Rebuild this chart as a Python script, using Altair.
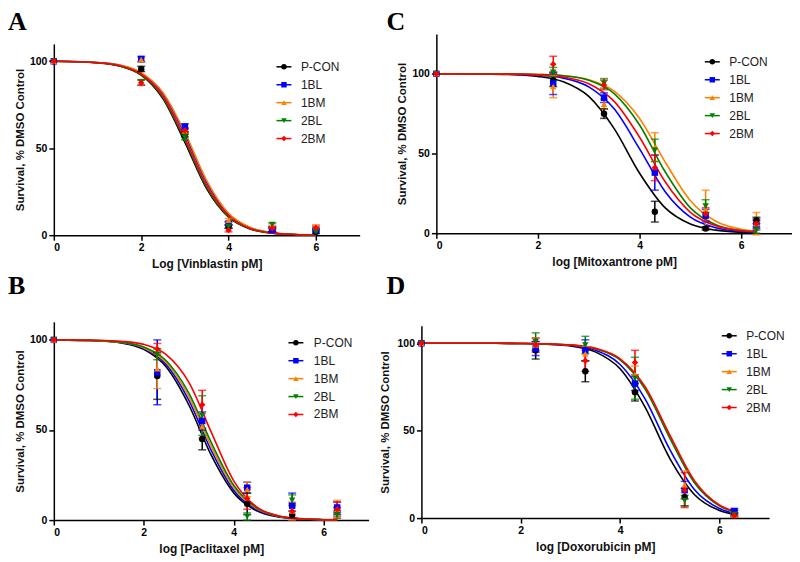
import altair as alt
import pandas as pd

# ---------------- data ----------------
SERIES = ["P-CON", "1BL", "1BM", "2BL", "2BM"]
COLORS = ["#000000", "#0000FF", "#FF8000", "#008000", "#FF0000"]
SHAPES = ["circle", "square", "triangle-up", "triangle-down", "diamond"]
X_TICKS = [0, 2, 4, 6]
Y_TICKS = [0, 50, 100]
Y_TITLE = "Survival, % DMSO Control"

# Panel A - Vinblastin
DOSE_A = [0, 2, 3, 4, 5, 6]
MEAN_A = {
    "P-CON": [100, 95.6, 58.0, 5.0, 3.0, 2.0],
    "1BL":   [100, 101.3, 62.5, 6.7, 3.0, 2.9],
    "1BM":   [100, 101.0, 60.0, 8.6, 5.5, 5.0],
    "2BL":   [100, 88.0, 56.4, 5.0, 6.1, 2.0],
    "2BM":   [100, 87.6, 60.2, 2.9, 4.0, 4.2],
}
ERR_A = {
    "P-CON": [0, 1.5, 1.5, 1.0, 1.0, 1.0],
    "1BL":   [0, 1.5, 1.5, 1.0, 1.0, 1.0],
    "1BM":   [0, 1.5, 1.5, 1.0, 1.0, 1.0],
    "2BL":   [0, 1.5, 1.5, 1.0, 1.0, 1.0],
    "2BM":   [0, 1.5, 1.5, 1.0, 1.0, 1.0],
}
GRID_A = [0, 1, 1.5, 2, 2.5, 3, 3.5, 4, 4.5, 5, 5.5, 6]
CURVE_A = {
    "P-CON": [100, 99.1, 97.3, 92.0, 78.4, 53.4, 26.6, 10.3, 3.5, 1.1, 0.4, 0.1],
    "1BL":   [100, 99.3, 97.8, 93.2, 81.4, 58.0, 30.4, 12.1, 4.2, 1.4, 0.4, 0.1],
    "1BM":   [100, 99.3, 97.9, 93.5, 82.0, 59.1, 31.4, 12.6, 4.4, 1.4, 0.5, 0.1],
    "2BL":   [100, 99.2, 97.4, 92.3, 79.2, 54.6, 27.5, 10.7, 3.7, 1.2, 0.4, 0.1],
    "2BM":   [100, 99.2, 97.6, 92.6, 79.9, 55.7, 28.5, 11.2, 3.8, 1.2, 0.4, 0.1],
}

DOSE_BCD = [0, 2.3, 3.3, 4.3, 5.3, 6.3]
GRID_BCD = [0, 1, 1.5, 2, 2.5, 3, 3.5, 4, 4.5, 5, 5.5, 6, 6.3]

# Panel B - Paclitaxel
MEAN_B = {
    "P-CON": [100, 80, 45, 9, 3, 5],
    "1BL":   [100, 82, 55, 18, 8, 7],
    "1BM":   [100, 84, 52, 17, 5, 6],
    "2BL":   [100, 92, 58, 2, 11, 3],
    "2BM":   [100, 95, 64, 12, 5, 6],
}
ERR_B = {
    "P-CON": [0, 13, 6, 6, 2, 2],
    "1BL":   [0, 18, 5, 3, 7, 3],
    "1BM":   [0, 11, 7, 4, 5, 5],
    "2BL":   [0, 3, 11, 2, 3, 2],
    "2BM":   [0, 3, 8, 6, 4, 4],
}
CURVE_B = {
    "P-CON": [99.9, 99.4, 98.3, 94.7, 84.9, 64.0, 36.0, 15.1, 5.3, 1.7, 0.6, 0.2, 0.1],
    "1BL":   [100, 99.5, 98.4, 95.2, 86.3, 66.6, 38.7, 16.6, 5.9, 2.0, 0.6, 0.2, 0.1],
    "1BM":   [100, 99.5, 98.6, 95.6, 87.4, 68.6, 40.9, 18.0, 6.5, 2.1, 0.7, 0.2, 0.1],
    "2BL":   [100, 99.6, 98.7, 96.0, 88.4, 70.6, 43.1, 19.3, 7.0, 2.3, 0.8, 0.3, 0.1],
    "2BM":   [100, 99.8, 99.2, 97.5, 91.8, 76.6, 48.8, 21.8, 7.5, 2.3, 0.7, 0.2, 0.1],
}

# Panel C - Mitoxantrone
MEAN_C = {
    "P-CON": [100, 96, 75, 13.5, 3, 8],
    "1BL":   [100, 94, 85, 38, 11, 5],
    "1BM":   [100, 92, 81, 54, 15, 6],
    "2BL":   [100, 101, 94, 52, 17, 2],
    "2BM":   [100, 106, 93, 41, 12, 6],
}
ERR_C = {
    "P-CON": [0, 4, 3, 6.5, 1, 2],
    "1BL":   [0, 7, 3, 11, 4, 3],
    "1BM":   [0, 7, 3, 9, 12, 7],
    "2BL":   [0, 3, 3, 7, 4, 2],
    "2BM":   [0, 5, 3, 8, 4, 3],
}
CURVE_C = {
    "P-CON": [100, 99.8, 99.5, 98.4, 95.0, 85.8, 65.6, 37.6, 16.0, 5.7, 1.9, 0.6, 0.3],
    "1BL":   [100, 99.9, 99.7, 99.1, 97.3, 91.8, 78.0, 52.9, 26.2, 10.1, 3.4, 1.1, 0.6],
    "1BM":   [100, 100, 99.9, 99.6, 98.8, 96.3, 89.1, 72.0, 44.8, 20.4, 7.5, 2.5, 1.3],
    "2BL":   [100, 100, 99.9, 99.6, 98.8, 96.0, 87.6, 67.9, 38.7, 15.9, 5.3, 1.7, 0.8],
    "2BM":   [100, 99.9, 99.8, 99.3, 98.0, 93.8, 82.7, 60.2, 32.4, 13.1, 4.6, 1.5, 0.8],
}

# Panel D - Doxorubicin
MEAN_D = {
    "P-CON": [100, 96, 84, 72, 12, 3],
    "1BL":   [100, 97, 96, 77, 16, 4],
    "1BM":   [100, 99, 94, 82, 19, 2],
    "2BL":   [100, 101, 99, 80, 10, 2],
    "2BM":   [100, 99, 90, 89, 16, 1.5],
}
ERR_D = {
    "P-CON": [0, 5, 6, 5, 5, 1.5],
    "1BL":   [0, 4, 6, 4, 5, 1.5],
    "1BM":   [0, 4, 4, 5, 8, 1],
    "2BL":   [0, 5, 5, 12, 3, 1],
    "2BM":   [0, 4, 6, 7, 10, 1],
}
CURVE_D = {
    "P-CON": [100, 100, 100, 99.9, 99.5, 98.5, 95.1, 85.4, 63.6, 34.2, 13.4, 4.4, 2.2],
    "1BL":   [100, 100, 100, 99.9, 99.6, 98.8, 96.1, 87.9, 68.4, 39.3, 16.2, 5.5, 2.7],
    "1BM":   [100, 100, 100, 99.9, 99.7, 99.1, 97.1, 90.9, 74.8, 47.0, 20.9, 7.3, 3.7],
    "2BL":   [100, 100, 100, 99.9, 99.7, 99.1, 96.9, 90.5, 73.9, 45.8, 20.1, 7.0, 3.5],
    "2BM":   [100, 100, 100, 99.9, 99.7, 99.1, 97.1, 91.1, 75.3, 47.6, 21.3, 7.5, 3.8],
}

FONT = "Liberation Sans"


def panel(letter, dose, mean, err, grid, curves, xtitle, ymax, w, h, xrange, yrange,
          yoff, leg_cx, leg_y, leg_lx, tdx, toff, ytp):
    pts = []
    for s in SERIES:
        for x, m, e in zip(dose, mean[s], err[s]):
            pts.append({"x": x, "y": m, "lo": m - e, "hi": m + e, "series": s})
    cur = []
    for s in SERIES:
        for x, y in zip(grid, curves[s]):
            cur.append({"x": x, "y": y, "series": s})
    pts = pd.DataFrame(pts)
    cur = pd.DataFrame(cur)

    xs = alt.Scale(domain=[0, 7], nice=False, zero=False, range=xrange)
    ys = alt.Scale(domain=[0, ymax], nice=False, range=yrange)
    xaxis = alt.Axis(values=X_TICKS, title=xtitle, titlePadding=6)
    yaxis = alt.Axis(values=Y_TICKS, title=Y_TITLE, titlePadding=ytp, offset=yoff)
    X = alt.X("x:Q", scale=xs, axis=xaxis)
    col = alt.Color("series:N", scale=alt.Scale(domain=SERIES, range=COLORS), legend=None)

    lines = alt.Chart(cur).mark_line(strokeWidth=1.6, interpolate="monotone").encode(
        x=X, y=alt.Y("y:Q", scale=ys, axis=yaxis), color=col)
    base = alt.Chart(pts)
    rules = base.mark_rule(strokeWidth=1.5).encode(
        x=X, y=alt.Y("lo:Q", scale=ys, axis=yaxis), y2="hi:Q", color=col)
    cap_lo = base.mark_tick(orient="horizontal", size=8, thickness=1.5).encode(
        x=X, y=alt.Y("lo:Q", scale=ys, axis=yaxis), color=col)
    cap_hi = base.mark_tick(orient="horizontal", size=8, thickness=1.5).encode(
        x=X, y=alt.Y("hi:Q", scale=ys, axis=yaxis), color=col)
    point_layers = [
        base.transform_filter(alt.datum.series == s).mark_point(
            filled=True, size=42, opacity=1, shape=shp, color=c).encode(
            x=X, y=alt.Y("y:Q", scale=ys, axis=yaxis))
        for s, shp, c in zip(SERIES, SHAPES, COLORS)
    ]

    # in-panel legend (marker with line, label), one row per series
    leg_df = pd.DataFrame({"series": SERIES})
    LY = alt.Y("series:N", scale=alt.Scale(type="point", domain=SERIES,
                                           range=[leg_y, leg_y + 72], padding=0), axis=None)
    leg_base = alt.Chart(leg_df)
    leg_line = leg_base.mark_rule(strokeWidth=1.5).encode(
        x=alt.value(leg_cx - 7.5), x2=alt.value(leg_cx + 7.5), y=LY, color=col)
    leg_pt = leg_base.mark_point(filled=True, size=30, opacity=1).encode(
        x=alt.value(leg_cx), y=LY, color=col,
        shape=alt.Shape("series:N", scale=alt.Scale(domain=SERIES, range=SHAPES), legend=None))
    leg_txt = leg_base.mark_text(align="left", baseline="middle", font=FONT,
                                 fontSize=12, color="#222").encode(
        x=alt.value(leg_lx), y=LY, text="series:N")
    legend = alt.layer(leg_line, leg_pt, leg_txt)

    data_layers = alt.layer(lines, rules, cap_lo, cap_hi, *point_layers)
    return alt.layer(data_layers, legend).resolve_scale(y="independent").properties(
        width=w, height=h,
        title=alt.TitleParams(letter, anchor="start", frame="group", font="Liberation Serif",
                              fontSize=26, fontWeight="bold", color="black", dx=tdx, offset=toff))


# A: plot (54,43)-(361,235) in a group at (54,33) 307x202
pA = panel("A", DOSE_A, MEAN_A, ERR_A, GRID_A, CURVE_A, "Log [Vinblastin pM]", 110,
           307, 202, [0, 307], [202, 10], 0, 231, 33, 248, -46, -1, 4)
# C: plot (438,33)-(795,233) in a group starting at x=380, axis moved in by 58
pC = panel("C", DOSE_BCD, MEAN_C, ERR_C, GRID_BCD, CURVE_C, "log [Mitoxantrone pM]", 125,
           415, 200, [58, 415], [200, 0], -58, 335, 28, 352, 8, -1, 4)
pB = panel("B", DOSE_BCD, MEAN_B, ERR_B, GRID_BCD, CURVE_B, "log [Paclitaxel pM]", 110,
           316, 199, [0, 316], [199, 0], 0, 243, 21, 261, -46, 23, 4)
pD = panel("D", DOSE_BCD, MEAN_D, ERR_D, GRID_BCD, CURVE_D, "log [Doxorubicin pM]", 110,
           349, 193, [0, 349], [193, 0], 0, 309, 10, 326, -35, 27, 7)

chart = alt.concat(pA, pC, pB, pD, columns=2, align="none",
                   spacing={"row": 3, "column": 10}).properties(
    padding=0).configure_view(stroke=None).configure_axis(
    grid=False, domainColor="black", domainWidth=1.5, tickColor="black", tickWidth=1.5,
    tickSize=5, labelFont=FONT, labelFontSize=10.5, labelFontWeight="bold",
    labelColor="black", labelPadding=2, titleFont=FONT, titleFontSize=12,
    titleFontWeight="bold", titleColor="#111"
).configure_axisY(titleFontSize=11.5)

chart.save("out.html", embed_options={"renderer": "svg", "actions": False})
